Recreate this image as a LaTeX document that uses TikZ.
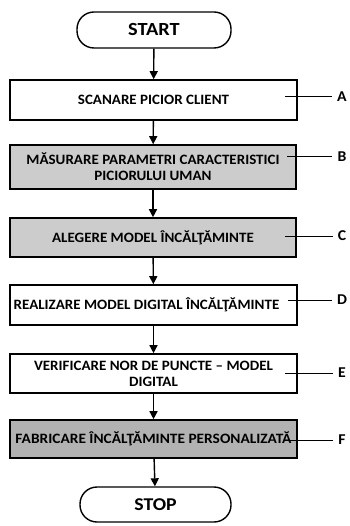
\documentclass[tikz,border=0pt]{standalone}
\usepackage{graphicx}
\usepackage{fontspec}
\setmainfont{Carlito}[FakeStretch=1.05]
\newfontfamily\termfont{Carlito}[FakeStretch=1.1]
\usetikzlibrary{arrows.meta}
\begin{document}
\begin{tikzpicture}[x=1pt,y=-1pt,
  term/.style={draw, line width=1.4pt, rounded corners=17pt, inner sep=0pt},
  stepbox/.style={draw, line width=1.6pt, inner sep=0pt, align=center, font=\bfseries\fontsize{14.3}{16}\selectfont},
  shaded/.style={fill=black!20},
  flow/.style={line width=1.4pt, -{Triangle[width=8pt,length=8pt]}},
  tag/.style={font=\bfseries\fontsize{15}{16}\selectfont, inner sep=1pt},
  tagline/.style={line width=1pt}]
\useasboundingbox (0,0) rectangle (349,526);
\node[term, font=\termfont\bfseries\fontsize{18.5}{19}\selectfont, minimum width=154pt, minimum height=36pt] (start) at (154,30) {START};
\node[stepbox, minimum width=287pt, minimum height=40pt] (a) at (153.5,100) {SCANARE PICIOR CLIENT};
\node[stepbox, shaded, minimum width=286pt, minimum height=44pt] (b) at (153,167) {MĂSURARE PARAMETRI CARACTERISTICI\\PICIORULUI UMAN};
\node[stepbox, shaded, minimum width=286pt, minimum height=39pt] (c) at (153,237.5) {ALEGERE MODEL ÎNCĂLŢĂMINTE};
\node[stepbox, minimum width=287pt, minimum height=40pt] (d) at (153.5,305) {\hspace*{-14pt}REALIZARE MODEL DIGITAL ÎNCĂLŢĂMINTE};
\node[stepbox, minimum width=287pt, minimum height=39pt] (e) at (153.5,373.5) {VERIFICARE NOR DE PUNCTE – MODEL\\DIGITAL};
\node[stepbox, fill=black!30, minimum width=287pt, minimum height=38pt] (f) at (153.5,439) {\resizebox{276pt}{\height}{FABRICARE ÎNCĂLŢĂMINTE PERSONALIZATĂ}};
\node[term, font=\termfont\bfseries\fontsize{18}{19}\selectfont, minimum width=151pt, minimum height=35pt] (stop) at (155.5,504.5) {STOP};
\foreach \u/\v in {start/a, a/b, b/c, c/d, d/e, e/f, f/stop}
  \draw[flow] (\u) -- (\v);
\node[tag] (la) at (342,97) {A};
\node[tag] (lb) at (342,157) {B};
\node[tag] (lc) at (342,236) {C};
\node[tag] (ld) at (342,300) {D};
\node[tag] (le) at (342,373) {E};
\node[tag] (lf) at (342,440) {F};
\coordinate (pa) at (285,97);
\coordinate (pb) at (287,157);
\coordinate (pc) at (285,236);
\coordinate (pd) at (288,300);
\coordinate (pe) at (285,373);
\coordinate (pf) at (285,440);
\foreach \p/\l in {pa/la, pb/lb, pc/lc, pd/ld, pe/le, pf/lf}
  \draw[tagline] (\p) -- ([xshift=-4pt]\l.west);
\end{tikzpicture}
\end{document}
